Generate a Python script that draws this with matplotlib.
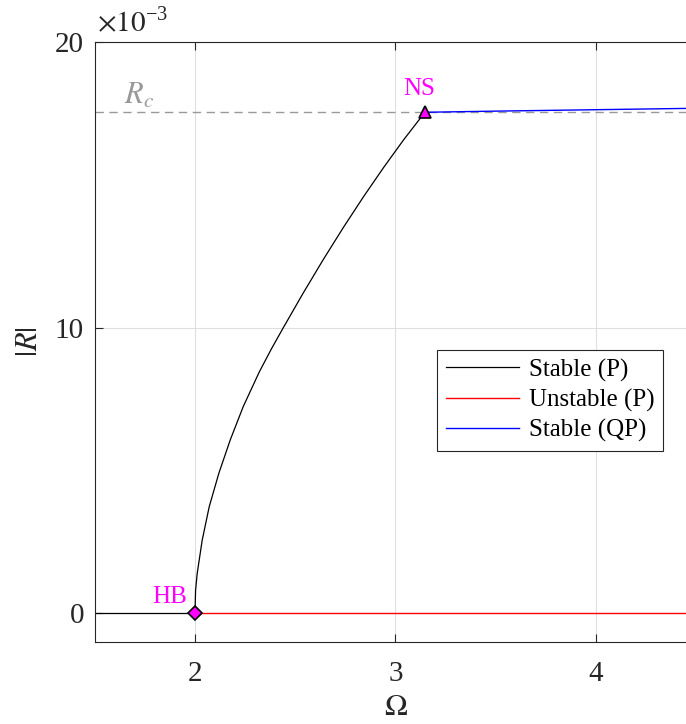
import numpy as np
import matplotlib
matplotlib.use("Agg")
from matplotlib import pyplot as plt

# stable periodic branch (|R| in units of 1e-3)
omega_sp = [1.5, 2.0]
r_sp = [0.0, 0.0]
omega_curve = [2.0, 2.0005, 2.002, 2.010, 2.035, 2.070, 2.118, 2.175, 2.240,
               2.320, 2.380, 2.440, 2.540, 2.640, 2.740, 2.840, 2.940, 3.040, 3.147]
r_curve = [0.0, 0.40, 0.81, 1.39, 2.56, 3.73, 4.90, 6.07, 7.24,
           8.45, 9.25, 10.00, 11.22, 12.39, 13.51, 14.58, 15.60, 16.57, 17.54]
# unstable periodic branch
omega_up = [2.0, 4.5]
r_up = [0.0, 0.0]
# stable quasi-periodic branch
omega_qp = [3.147, 3.5, 4.0, 4.5]
r_qp = [17.54, 17.58, 17.63, 17.68]

r_c = 17.54
hb = (2.0, 0.0)
ns = (3.147, 17.54)

plt.rcParams['font.family'] = ['Liberation Serif', 'DejaVu Serif']
plt.rcParams['mathtext.fontset'] = 'stix'

fig = plt.figure(figsize=(6.86, 7.24), dpi=100)
ax = fig.add_axes([0.1385, 0.1133, 0.876, 0.8287])

s = 1e-3
ax.axhline(r_c * s, color='#999999', ls=(0, (6, 4)), lw=1.0, zorder=1)
ax.plot(omega_sp, np.array(r_sp) * s, color='k', lw=0.9, zorder=2)
l1, = ax.plot(omega_curve, np.array(r_curve) * s, color='k', lw=0.9, zorder=2)
l2, = ax.plot(omega_up, np.array(r_up) * s, color='red', lw=1.0, zorder=2)
l3, = ax.plot(omega_qp, np.array(r_qp) * s, color='blue', lw=1.0, zorder=2)

ax.plot(hb[0], hb[1] * s, marker='D', ms=7, mfc='#ff00ff', mec='k', mew=1.2, zorder=5)
ax.plot(ns[0], ns[1] * s, marker='^', ms=9, mfc='#ff00ff', mec='k', mew=1.2, zorder=5)
ax.text(1.875, 0.58e-3, 'HB', color='#ff00ff', fontsize=18, ha='center', va='center')
ax.text(3.117, 18.35e-3, 'NS', color='#ff00ff', fontsize=18, ha='center', va='center')
ax.text(1.72, 18.1e-3, r'$R_c$', color='#999999', fontsize=22, ha='center', va='center')

ax.set_xlim(1.5, 4.5)
ax.set_ylim(-1e-3, 20e-3)
ax.set_xticks([2, 3, 4])
ax.set_yticks([0, 0.01, 0.02])
ax.set_yticklabels(['0', '10', '20'])
ax.tick_params(direction='in', length=6, width=0.8, labelsize=21, colors='#262626',
               top=True, right=True)
ax.tick_params(axis='x', pad=14)
ax.tick_params(axis='y', pad=8)
for sp in ax.spines.values():
    sp.set_color('#262626')
    sp.set_linewidth(0.8)
ax.grid(True, color='#dfdfdf', lw=0.8)
ax.set_axisbelow(True)

ax.text(0.003, 1.008, r'$\times10^{\mathregular{-3}}$', transform=ax.transAxes,
        fontsize=21, ha='left', va='bottom', color='#262626')
ax.set_xlabel(r'$\Omega$', fontsize=22, color='#262626', labelpad=4)
ax.set_ylabel(r'$|R|$', fontsize=22, color='#262626', labelpad=8)

leg = ax.legend([l1, l2, l3], ['Stable (P)', 'Unstable (P)', 'Stable (QP)'],
                loc='upper right', bbox_to_anchor=(0.945, 0.487), fontsize=18,
                handlelength=2.9, handletextpad=0.4, borderpad=0.35, labelspacing=0.28,
                borderaxespad=0, fancybox=False, framealpha=1, edgecolor='#262626')
leg.get_frame().set_linewidth(0.8)

fig.savefig('out.png', dpi=100)
